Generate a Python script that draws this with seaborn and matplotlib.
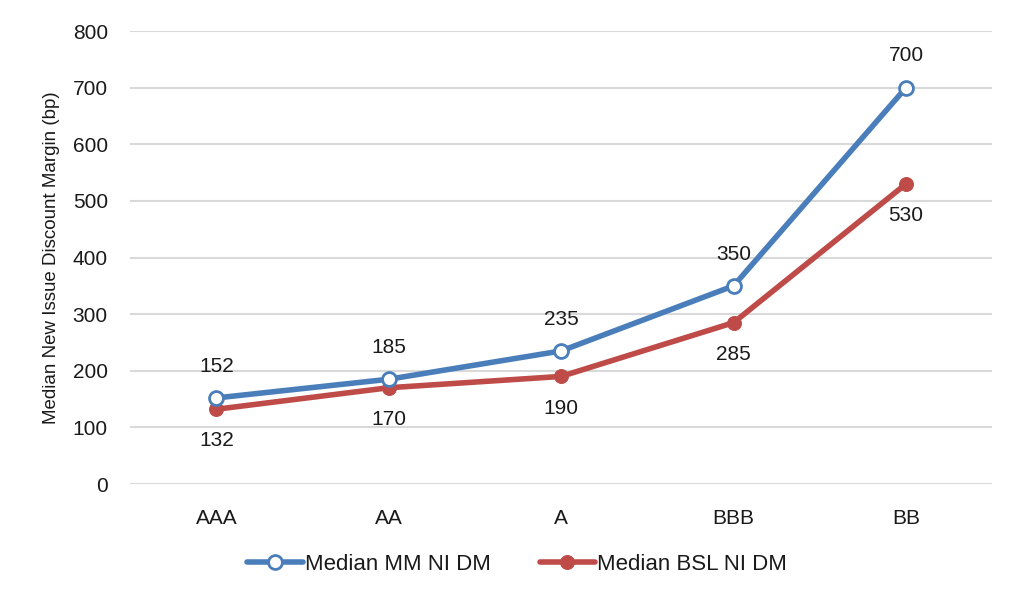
import pandas as pd
import numpy as np
import matplotlib.pyplot as plt
import seaborn as sns

# Chart data
ratings = ['AAA', 'AA', 'A', 'BBB', 'BB']
mm_dm = [152, 185, 235, 350, 700]
bsl_dm = [132, 170, 190, 285, 530]

df = pd.DataFrame({
    'rating': ratings * 2,
    'x': list(range(len(ratings))) * 2,
    'dm': mm_dm + bsl_dm,
    'series': ['Median MM NI DM'] * len(ratings) + ['Median BSL NI DM'] * len(ratings),
})

sns.set_style('white')
plt.rcParams['font.family'] = ['Liberation Sans', 'DejaVu Sans']

blue = '#4A7EBB'
red = '#BE4B48'
txt = '#1a1a1a'

fig = plt.figure(figsize=(10.24, 6.02), dpi=100)
ax = fig.add_axes([0.127, 0.196, 0.842, 0.7525])

sns.lineplot(data=df[df.series == 'Median MM NI DM'], x='x', y='dm', ax=ax,
             color=blue, linewidth=4, marker='o', markersize=10,
             markerfacecolor='white', markeredgecolor=blue, markeredgewidth=2,
             label='Median MM NI DM', zorder=4)
sns.lineplot(data=df[df.series == 'Median BSL NI DM'], x='x', y='dm', ax=ax,
             color=red, linewidth=4, marker='o', markersize=10,
             markerfacecolor=red, markeredgecolor=red,
             label='Median BSL NI DM', zorder=3)

# data labels
for i, v in enumerate(mm_dm):
    ax.annotate(str(v), (i, v), xytext=(0, 16), textcoords='offset points',
                ha='center', va='bottom', fontsize=15, color=txt)
for i, v in enumerate(bsl_dm):
    ax.annotate(str(v), (i, v), xytext=(0, -16), textcoords='offset points',
                ha='center', va='top', fontsize=15, color=txt)

ax.set_xlim(-0.5, 4.5)
ax.set_ylim(0, 800)
ax.set_yticks(np.arange(0, 801, 100))
ax.set_xticks(range(len(ratings)))
ax.set_xticklabels(ratings)
ax.tick_params(axis='y', labelsize=15, colors=txt, length=0, pad=16)
ax.tick_params(axis='x', labelsize=15, colors=txt, length=0, pad=18)
ax.grid(axis='y', color='#d9d9d9', linewidth=1.5)
ax.set_axisbelow(True)
for s in ax.spines.values():
    s.set_visible(False)
ax.set_xlabel('')
ax.set_ylabel('Median New Issue Discount Margin (bp)', fontsize=13.5, color=txt, labelpad=9)

ax.get_legend().remove()
handles, labels = ax.get_legend_handles_labels()
fig.legend(handles, labels, loc='center', bbox_to_anchor=(0.505, 0.063), ncol=2,
           frameon=False, fontsize=16, handlelength=2.5, handletextpad=0.1,
           columnspacing=2.2, labelcolor=txt)

fig.savefig('out.png', dpi=100)
